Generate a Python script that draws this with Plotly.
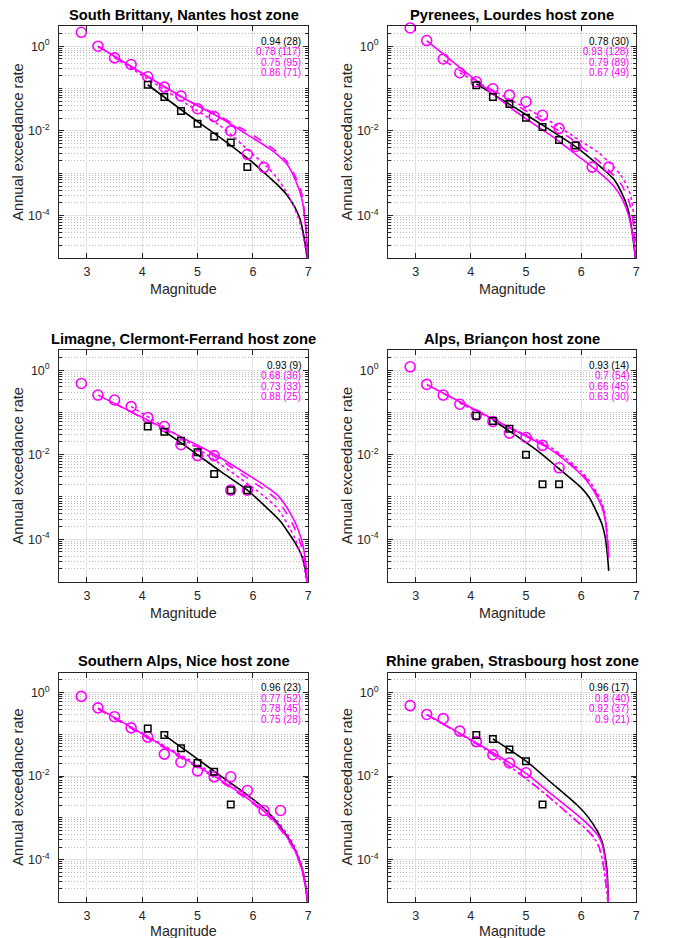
import plotly.graph_objects as go

# ---------------- data ----------------
titles = ["South Brittany, Nantes host zone", "Pyrenees, Lourdes host zone",
          "Limagne, Clermont-Ferrand host zone", "Alps, Briançon host zone",
          "Southern Alps, Nice host zone", "Rhine graben, Strasbourg host zone"]

stats_text = [
    ["0.94 (28)", "0.78 (117)", "0.75 (95)", "0.86 (71)"],
    ["0.78 (30)", "0.93 (128)", "0.79 (89)", "0.67 (49)"],
    ["0.93 (9)", "0.68 (36)", "0.73 (33)", "0.88 (25)"],
    ["0.93 (14)", "0.7 (54)", "0.66 (45)", "0.63 (30)"],
    ["0.96 (23)", "0.77 (52)", "0.78 (45)", "0.75 (28)"],
    ["0.96 (17)", "0.8 (40)", "0.92 (37)", "0.9 (21)"],
]

# magnitude bins of the observed rates
circ_mag = [2.9, 3.2, 3.5, 3.8, 4.1, 4.4, 4.7, 5.0, 5.3, 5.6, 5.9, 6.2, 6.5]
sq_mag = [4.1, 4.4, 4.7, 5.0, 5.3, 5.6, 5.9]

# observed annual exceedance rates (magenta circles)
nantes_circ = [2.13, 1.0, 0.53, 0.37, 0.19, 0.108, 0.0667, 0.0335, 0.0218, 0.0100, 0.0028, 0.00138]
lourdes_circ = [2.7, 1.36, 0.50, 0.236, 0.145, 0.099, 0.070, 0.049, 0.0234, 0.0115, 0.0043, 0.0014, 0.0014]
clermont_circ = [0.485, 0.258, 0.197, 0.137, 0.076, 0.0465, 0.0172, 0.0095, 0.0095, 0.00145, 0.00145]
briancon_circ = [1.2, 0.46, 0.258, 0.156, 0.087, 0.061, 0.0324, 0.0256, 0.0166, 0.0049]
nice_circ = [0.805, 0.428, 0.263, 0.142, 0.0857, 0.0335, 0.0214, 0.0133, 0.0096, 0.0096, 0.0045, 0.0015, 0.0015]
strasbourg_circ = [0.485, 0.298, 0.236, 0.119, 0.0667, 0.0324, 0.0206, 0.012]

# observed annual exceedance rates (black squares)
nantes_sq = [0.123, 0.063, 0.0295, 0.0148, 0.0074, 0.0053, 0.0014]
lourdes_sq = [0.12, 0.063, 0.043, 0.0204, 0.0124, 0.0061, 0.0045]
clermont_sq = [0.0465, 0.035, 0.0214, 0.0114, 0.0035, 0.00145, 0.00145]
briancon_sq = [0.084, 0.063, 0.041, 0.010, 0.002, 0.002]
nice_sq = [0.137, 0.0955, 0.0465, 0.0206, 0.0126, 0.0021]
strasbourg_sq = [0.0955, 0.077, 0.0432, 0.0225, 0.0021]

# model curves: magnitude and log10(annual exceedance rate)
nantes_bk_m = [4.1, 4.81, 5.41, 6.0, 6.3, 6.45, 6.6, 6.75, 6.84, 6.89, 6.93, 6.98, 7.0]
nantes_bk_lg = [-0.91, -1.60, -2.16, -2.75, -3.10, -3.28, -3.49, -3.78, -4.04, -4.28, -4.55, -5.0, -6.0]
nantes_s_m = [3.2, 4.81, 5.41, 6.0, 6.3, 6.45, 6.6, 6.72, 6.84, 6.9, 6.93, 6.98, 7.0]
nantes_s_lg = [0.0, -1.27, -1.69, -2.17, -2.42, -2.57, -2.76, -3.02, -3.40, -3.70, -4.00, -4.70, -6.0]
nantes_d_m = [3.2, 4.81, 5.41, 6.0, 6.3, 6.45, 6.6, 6.72, 6.84, 6.9, 6.93, 6.98, 7.0]
nantes_d_lg = [0.0, -1.27, -1.66, -2.10, -2.36, -2.51, -2.70, -2.95, -3.30, -3.58, -3.90, -4.60, -6.0]
nantes_o_m = [3.5, 4.81, 5.41, 6.0, 6.25, 6.43, 6.6, 6.72, 6.82, 6.9, 6.97, 7.0]
nantes_o_lg = [-0.27, -1.37, -1.88, -2.55, -2.84, -3.10, -3.43, -3.73, -4.05, -4.43, -5.0, -6.0]

lourdes_bk_m = [4.1, 4.8, 5.5, 5.9, 6.3, 6.45, 6.6, 6.72, 6.84, 6.89, 6.93, 6.98, 7.0]
lourdes_bk_lg = [-0.89, -1.45, -2.03, -2.37, -2.79, -2.96, -3.15, -3.42, -3.80, -4.10, -4.43, -5.0, -6.0]
lourdes_s_m = [3.2, 4.8, 5.5, 6.0, 6.2, 6.4, 6.6, 6.75, 6.87, 6.95, 6.99, 7.0]
lourdes_s_lg = [0.13, -1.53, -2.15, -2.65, -2.85, -3.06, -3.32, -3.62, -4.04, -4.60, -5.0, -6.0]
lourdes_d_m = [3.5, 5.0, 5.79, 6.24, 6.5, 6.72, 6.85, 6.92, 6.97, 7.0]
lourdes_d_lg = [-0.33, -1.53, -2.16, -2.63, -2.93, -3.25, -3.60, -3.95, -4.6, -6.0]
lourdes_o_m = [3.8, 5.52, 6.0, 6.3, 6.54, 6.72, 6.84, 6.9, 6.95, 6.98, 7.0]
lourdes_o_lg = [-0.63, -1.84, -2.25, -2.50, -2.78, -3.05, -3.32, -3.55, -3.95, -4.5, -6.0]

clermont_bk_m = [4.4, 4.81, 5.41, 5.9, 6.31, 6.5, 6.66, 6.78, 6.87, 6.93, 6.96, 6.99, 7.0]
clermont_bk_lg = [-1.45, -1.82, -2.39, -2.84, -3.33, -3.58, -3.88, -4.12, -4.35, -4.6, -4.82, -5.2, -6.0]
clermont_s_m = [3.2, 4.81, 5.32, 6.0, 6.2, 6.43, 6.6, 6.72, 6.82, 6.9, 6.97, 7.0]
clermont_s_lg = [-0.59, -1.65, -2.0, -2.55, -2.72, -2.94, -3.22, -3.49, -3.78, -4.12, -4.74, -6.0]
clermont_d_m = [3.5, 4.81, 5.32, 6.0, 6.2, 6.43, 6.6, 6.72, 6.82, 6.9, 6.97, 7.0]
clermont_d_lg = [-0.79, -1.68, -2.05, -2.64, -2.82, -3.06, -3.37, -3.65, -3.95, -4.27, -4.9, -6.0]
clermont_o_m = [3.8, 5.0, 6.0, 6.2, 6.43, 6.55, 6.66, 6.76, 6.84, 6.9, 6.95, 7.0]
clermont_o_lg = [-0.86, -1.85, -2.78, -2.98, -3.25, -3.47, -3.73, -3.98, -4.27, -4.5, -4.85, -6.0]

briancon_bk_m = [4.4, 4.8, 5.2, 5.58, 6.0, 6.15, 6.3, 6.38, 6.44, 6.48, 6.5]
briancon_bk_lg = [-1.18, -1.53, -1.9, -2.31, -2.78, -3.02, -3.41, -3.65, -3.98, -4.43, -4.75]
briancon_s_m = [3.2, 4.8, 5.4, 5.7, 6.0, 6.15, 6.3, 6.38, 6.44, 6.48, 6.5]
briancon_s_lg = [-0.34, -1.43, -1.84, -2.12, -2.47, -2.70, -3.02, -3.25, -3.57, -4.1, -4.45]
briancon_d_m = [3.5, 4.8, 5.4, 5.7, 6.0, 6.15, 6.3, 6.38, 6.44, 6.48, 6.5]
briancon_d_lg = [-0.55, -1.42, -1.82, -2.10, -2.44, -2.66, -2.98, -3.2, -3.52, -4.05, -4.4]
briancon_o_m = [3.8, 4.8, 5.4, 5.7, 6.0, 6.15, 6.3, 6.38, 6.44, 6.48, 6.5]
briancon_o_lg = [-0.78, -1.41, -1.79, -2.06, -2.40, -2.62, -2.93, -3.15, -3.47, -4.0, -4.4]

nice_bk_m = [4.4, 4.81, 5.41, 6.0, 6.25, 6.43, 6.6, 6.72, 6.82, 6.9, 6.97, 7.0]
nice_bk_lg = [-1.02, -1.41, -1.99, -2.55, -2.83, -3.10, -3.40, -3.65, -3.95, -4.27, -4.82, -6.0]
nice_s_m = [3.2, 4.81, 5.41, 6.0, 6.25, 6.43, 6.6, 6.72, 6.82, 6.9, 6.96, 6.99, 7.0]
nice_s_lg = [-0.37, -1.62, -2.09, -2.63, -2.9, -3.14, -3.43, -3.68, -3.97, -4.3, -4.7, -5.0, -6.0]
nice_d_m = [3.2, 4.81, 5.41, 6.0, 6.25, 6.43, 6.6, 6.72, 6.82, 6.9, 6.96, 6.99, 7.0]
nice_d_lg = [-0.39, -1.65, -2.12, -2.66, -2.93, -3.17, -3.46, -3.71, -4.0, -4.33, -4.75, -5.05, -6.0]
nice_o_m = [3.5, 4.81, 5.41, 6.0, 6.25, 6.43, 6.6, 6.72, 6.82, 6.9, 6.96, 6.99, 7.0]
nice_o_lg = [-0.60, -1.58, -2.04, -2.57, -2.83, -3.06, -3.35, -3.6, -3.9, -4.22, -4.62, -4.95, -6.0]

strasbourg_bk_m = [4.4, 5.01, 5.46, 5.94, 6.12, 6.30, 6.38, 6.42, 6.47, 6.49, 6.5]
strasbourg_bk_lg = [-1.11, -1.65, -2.16, -2.71, -2.97, -3.33, -3.57, -3.80, -4.27, -4.90, -6.0]
strasbourg_s_m = [3.2, 4.26, 4.98, 5.46, 5.94, 6.12, 6.30, 6.38, 6.42, 6.47, 6.49, 6.5]
strasbourg_s_lg = [-0.525, -1.33, -1.92, -2.43, -2.94, -3.15, -3.41, -3.63, -3.88, -4.43, -4.98, -6.0]
strasbourg_d_m = [3.2, 4.26, 4.98, 5.46, 5.94, 6.1, 6.24, 6.33, 6.39, 6.45, 6.49, 6.5]
strasbourg_d_lg = [-0.53, -1.36, -2.04, -2.55, -3.10, -3.28, -3.49, -3.72, -4.04, -4.59, -5.1, -6.0]
strasbourg_o_m = [3.2, 4.26, 4.98, 5.46, 5.94, 6.1, 6.24, 6.33, 6.39, 6.45, 6.49, 6.5]
strasbourg_o_lg = [-0.53, -1.36, -2.04, -2.55, -3.10, -3.28, -3.49, -3.72, -4.04, -4.59, -5.1, -6.0]

x_ticks = [3, 4, 5, 6, 7]
y_ticks = [1e-4, 1e-2, 1]
y_ticktext = ["10<sup>-4</sup>", "10<sup>-2</sup>", "10<sup>0</sup>"]

panels = [
    (nantes_circ, nantes_sq, (nantes_bk_m, nantes_bk_lg), (nantes_s_m, nantes_s_lg),
     (nantes_d_m, nantes_d_lg), (nantes_o_m, nantes_o_lg)),
    (lourdes_circ, lourdes_sq, (lourdes_bk_m, lourdes_bk_lg), (lourdes_s_m, lourdes_s_lg),
     (lourdes_d_m, lourdes_d_lg), (lourdes_o_m, lourdes_o_lg)),
    (clermont_circ, clermont_sq, (clermont_bk_m, clermont_bk_lg), (clermont_s_m, clermont_s_lg),
     (clermont_d_m, clermont_d_lg), (clermont_o_m, clermont_o_lg)),
    (briancon_circ, briancon_sq, (briancon_bk_m, briancon_bk_lg), (briancon_s_m, briancon_s_lg),
     (briancon_d_m, briancon_d_lg), (briancon_o_m, briancon_o_lg)),
    (nice_circ, nice_sq, (nice_bk_m, nice_bk_lg), (nice_s_m, nice_s_lg),
     (nice_d_m, nice_d_lg), (nice_o_m, nice_o_lg)),
    (strasbourg_circ, strasbourg_sq, (strasbourg_bk_m, strasbourg_bk_lg), (strasbourg_s_m, strasbourg_s_lg),
     (strasbourg_d_m, strasbourg_d_lg), (strasbourg_o_m, strasbourg_o_lg)),
]

# ---------------- layout / style ----------------
W, H = 685, 938
MAG = "#FF00FF"
AX = "#262626"
FONT = "Liberation Sans, Arial, Helvetica, sans-serif"
col_px = [(51.5, 302.0), (382.3, 632.0)]
row_px = [(18.0, 250.0), (342.0, 573.5), (664.5, 893.5)]
mag_shift = [-31, -31, -29.5]

minor_vals = []
for k in range(-5, 1):
    for m in range(2, 10):
        minor_vals.append(m * 10.0 ** k)
minor_vals += [1e-1, 1e-3, 1e-5]

fig = go.Figure()
annotations = []

for i, (circ, sq, bk, ms, md, mo) in enumerate(panels):
    r, c = divmod(i, 2)
    sfx = "" if i == 0 else str(i + 1)
    xa, ya = "x" + sfx, "y" + sfx
    x0, x1 = col_px[c]
    y0, y1 = row_px[r]
    xdom = [x0 / W, x1 / W]
    ydom = [1 - y1 / H, 1 - y0 / H]

    common = dict(showline=True, linecolor=AX, linewidth=1, mirror="ticks",
                  ticks="inside", ticklen=5, tickcolor=AX, tickwidth=1,
                  tickfont=dict(family=FONT, size=12.5, color=AX),
                  zeroline=False, showgrid=True, gridcolor="#e3e3e3", gridwidth=1)
    fig.layout["xaxis" + sfx] = dict(domain=xdom, anchor=ya, range=[2.5, 7],
                                     tickmode="array", tickvals=x_ticks,
                                     ticklabelstandoff=2, **common)
    fig.layout["yaxis" + sfx] = dict(domain=ydom, anchor=xa, type="log",
                                     range=[-5, 0.477], tickmode="array",
                                     tickvals=y_ticks, ticktext=y_ticktext,
                                     ticklabelstandoff=6,
                                     minor=dict(tickmode="array", tickvals=minor_vals,
                                                showgrid=True, griddash="1px,2px",
                                                gridcolor="#b8b8b8", gridwidth=1,
                                                ticks="inside", ticklen=3, tickcolor=AX),
                                     **common)

    # curves
    curves = [(bk, "black", "solid"), (ms, MAG, "solid"), (md, MAG, "dash"), (mo, MAG, "dot")]
    for (mx, lg), col, dash in curves:
        fig.add_trace(go.Scatter(x=mx, y=[10 ** v for v in lg], mode="lines",
                                 line=dict(color=col, width=1.6, dash=dash,
                                           shape="spline", smoothing=0.8),
                                 xaxis=xa, yaxis=ya, showlegend=False, hoverinfo="skip"))
    # observed rates
    fig.add_trace(go.Scatter(x=circ_mag[:len(circ)], y=circ, mode="markers",
                             marker=dict(symbol="circle-open", size=10, color=MAG,
                                         line=dict(width=1.6, color=MAG)),
                             xaxis=xa, yaxis=ya, showlegend=False, cliponaxis=False))
    fig.add_trace(go.Scatter(x=sq_mag[:len(sq)], y=sq, mode="markers",
                             marker=dict(symbol="square-open", size=6.5, color="black",
                                         line=dict(width=1.5, color="black")),
                             xaxis=xa, yaxis=ya, showlegend=False))

    xref = xa + " domain"
    yref = ya + " domain"
    # title
    annotations.append(dict(text="<b>" + titles[i] + "</b>", x=0.5, y=1, xref=xref, yref=yref,
                            xanchor="center", yanchor="middle", yshift=11.5, showarrow=False,
                            borderpad=0, font=dict(family=FONT, size=14.7, color="black")))
    # axis titles
    annotations.append(dict(text="Annual exceedance rate", x=0, y=0.5, xref=xref, yref=yref,
                            xanchor="center", yanchor="middle", xshift=-41.5, textangle=-90,
                            showarrow=False, borderpad=0,
                            font=dict(family=FONT, size=14.6, color=AX)))
    annotations.append(dict(text="Magnitude", x=0.5, y=0, xref=xref, yref=yref,
                            xanchor="center", yanchor="middle", yshift=mag_shift[r],
                            showarrow=False, borderpad=0,
                            font=dict(family=FONT, size=14.3, color=AX)))
    # statistics text
    for k, t in enumerate(stats_text[i]):
        annotations.append(dict(text=t, x=1, y=1, xref=xref, yref=yref,
                                xanchor="right", yanchor="middle", xshift=-6,
                                yshift=-15 - 10.6 * k, showarrow=False, borderpad=0,
                                font=dict(family=FONT, size=10, color="black" if k == 0 else MAG)))

fig.update_layout(width=W, height=H, autosize=False,
                  margin=dict(l=0, r=0, t=0, b=0),
                  paper_bgcolor="white", plot_bgcolor="white",
                  annotations=annotations, showlegend=False)

fig.write_html("out.html")
